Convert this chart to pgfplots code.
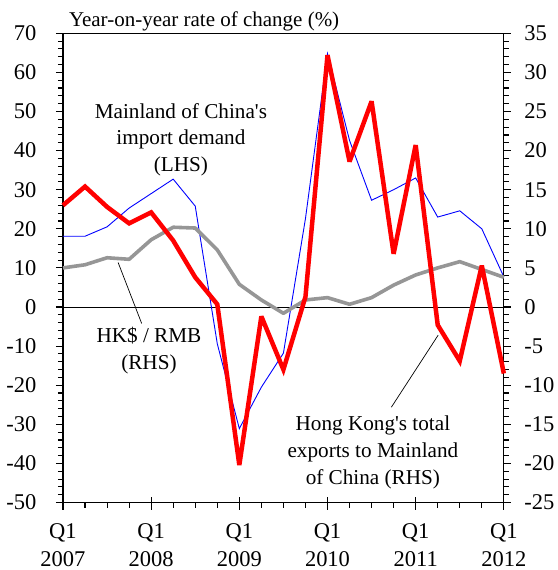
\documentclass[border=0pt]{standalone}
\usepackage{fontspec}
\setmainfont{Liberation Serif}[Ligatures=TeXOff]
\usepackage{pgfplots}
\usepackage{pgfplotstable}
\pgfplotsset{compat=1.18}

% quarter index 0 = 2007 Q1
\pgfplotstableread{
q  mainland hkexp  hkrmb
0   18.1    13.0   5.0
1   18.1    15.4   5.4
2   20.5    12.8   6.3
3   25.3    10.7   6.1
4   29.0    12.1   8.6
5   32.7     8.5  10.2
6   25.8     3.8  10.1
7   -9.4     0.35  7.3
8  -31.1   -20.2   2.9
9  -20.5    -1.2   0.9
10 -11.8    -8.0  -0.8
11  22.6     1.3   0.9
12  64.8    32.2   1.2
13  42.6    18.6   0.35
14  27.3    26.3   1.2
15  30.0     6.8   2.8
16  33.0    20.7   4.1
17  23.0    -2.3   5.0
18  24.6    -6.9   5.8
19  20.0     5.3   4.8
20   7.7    -8.5   3.8
}\datatable

\definecolor{rmbgray}{RGB}{150,150,150}

\pgfplotsset{
  common/.style={
    scale only axis, width=441pt, height=469.4pt,
    xmin=0, xmax=20,
    tick align=outside,
    major tick length=7pt, minor tick length=5pt,
    tick style={line width=1.1pt, black},
    axis line style={line width=1.3pt},
    ticklabel style={font=\fontsize{22.5}{26}\selectfont},
    /pgf/number format/assume math mode=true,
    clip=false,
  },
}

\begin{document}
\begin{tikzpicture}
\begin{axis}[
  common,
  ymin=-50, ymax=70,
  ytick={-50,-40,...,70}, minor y tick num=4,
  xtick={0,4,...,20},
  xticklabels={Q1\\2007,Q1\\2008,Q1\\2009,Q1\\2010,Q1\\2011,Q1\\2012},
  minor x tick num=3,
  xtick pos=left, ytick pos=left,
  xticklabel style={align=center, font=\fontsize{22.5}{27.5}\selectfont, yshift=-11pt},
  yticklabel style={xshift=-16pt},
  extra x ticks={0,4,...,20}, extra x tick labels={},
  extra tick style={tick align=inside, major tick length=6pt},
]
\addplot[black, line width=0.8pt] coordinates {(0,0) (20,0)};
\addplot[blue, line width=0.9pt] table[x=q, y=mainland] {\datatable};

\node[anchor=base west, font=\fontsize{21}{24}\selectfont]
  at ([xshift=2.5pt, yshift=7pt]rel axis cs:0,1) {Year-on-year rate of change (\%)};
\node[align=center, font=\fontsize{21.2}{26.7}\selectfont]
  at (axis cs:5.35,42.8) {Mainland of China's\\import demand\\(LHS)};
\node[align=center, font=\fontsize{21.2}{26.7}\selectfont]
  at (axis cs:3.9,-11.1) {HK\$ / RMB\\(RHS)};
\node[align=center, font=\fontsize{21.2}{26.7}\selectfont]
  at (axis cs:14.06,-37.2) {Hong Kong's total\\exports to Mainland\\of China (RHS)};
\draw[black, line width=0.7pt] (axis cs:2.50,11.4) -- (axis cs:3.57,-4.2);
\draw[black, line width=0.7pt] (axis cs:17.02,-7.2) -- (axis cs:14.9,-25.6);
\end{axis}

\begin{axis}[
  common,
  ymin=-25, ymax=35,
  hide x axis,
  axis y line*=right,
  ytick={-25,-20,...,35}, minor y tick num=4,
  yticklabel style={xshift=10pt},
]
\addplot[rmbgray, line width=3.6pt, line join=round] table[x=q, y=hkrmb] {\datatable};
\addplot[red, line width=4.5pt, line join=miter, miter limit=3] table[x=q, y=hkexp] {\datatable};
\end{axis}

\path (-63pt,-67.3pt) rectangle (492pt,502.7pt);
\end{tikzpicture}
\end{document}
